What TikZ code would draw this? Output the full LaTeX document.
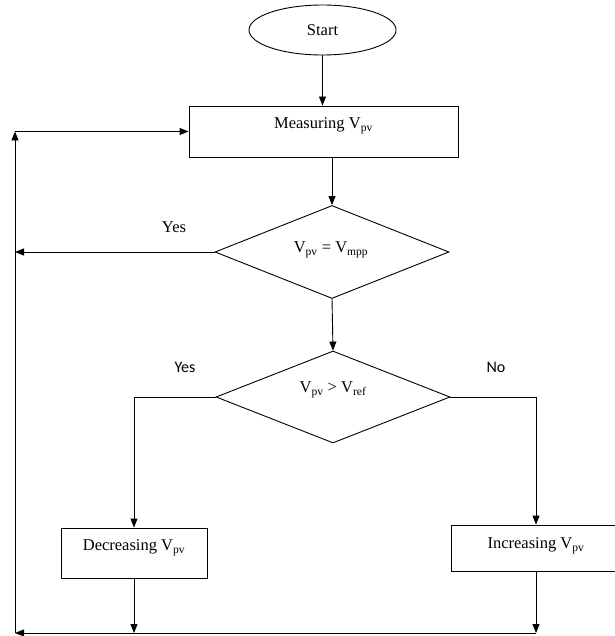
\documentclass[tikz,border=0pt]{standalone}
\usepackage{fontspec}
\setmainfont{Liberation Serif}
\newfontfamily\calib{Carlito}
\usetikzlibrary{shapes.geometric,arrows.meta}
\begin{document}
\begin{tikzpicture}[x=1pt,y=-1pt,
  line width=0.9pt,
  arr/.style={-{Triangle[length=9pt,width=7pt]}},
  txt/.style={font=\fontsize{16.5}{19}\selectfont, inner sep=0pt},
  sanstxt/.style={font=\calib\fontsize{16}{19}\selectfont, inner sep=0pt},
  box/.style={draw, rectangle, inner sep=0pt, txt},
  dia/.style={draw, diamond, inner sep=0pt, minimum width=234pt, aspect=2.5},
]
\useasboundingbox (0,0) rectangle (614,636);
\node[draw, ellipse, minimum width=147pt, minimum height=50pt, txt] (start) at (322.5,30) {Start};
\node[box, minimum width=269pt, text height=22.5pt, text depth=28.5pt] (meas) at (323.5,131.5) {Measuring V\textsubscript{pv}};
\node[dia, minimum height=93pt] (d1) at (332,252) {};
\node[txt] (t1) at (331,250) {V\textsubscript{pv} = V\textsubscript{mpp}};
\node[dia, minimum height=92pt] (d2) at (333,397) {};
\node[txt] (t2) at (333,390) {V\textsubscript{pv} > V\textsubscript{ref}};
\node[box, minimum width=146pt, text height=22.5pt, text depth=27.5pt] (dec) at (134,553) {Decreasing V\textsubscript{pv}};
\node[box, minimum width=170pt, text height=23.5pt, text depth=22.5pt] (inc) at (536,548) {Increasing V\textsubscript{pv}};
\node[txt] (yes1) at (174,227) {Yes};
\node[sanstxt] (yes2) at (185,367) {Yes};
\node[sanstxt] (no) at (496,367) {No};
\coordinate (L1) at (15,131.5);
\coordinate (L2) at (15,633);
\draw[arr] (start.south) -- (start.south |- meas.north);
\draw[arr] (meas.south -| d1.north) -- (d1.north);
\draw[arr] (d1.west) -- (d1.west -| L1);
\draw[arr] (d1.south) -- (d2.north);
\draw[arr] (d2.west) -| (dec.north);
\draw[arr] (d2.east) -| (inc.north);
\draw[arr] (dec.south) -- (dec.south |- L2);
\draw[arr] (inc.south) -- (inc.south |- L2);
\draw[arr] (inc.south |- L2) -- (L2);
\draw[arr] (L2) -- (L1);
\draw[arr] (L1) -- (meas.west);
\end{tikzpicture}
\end{document}
